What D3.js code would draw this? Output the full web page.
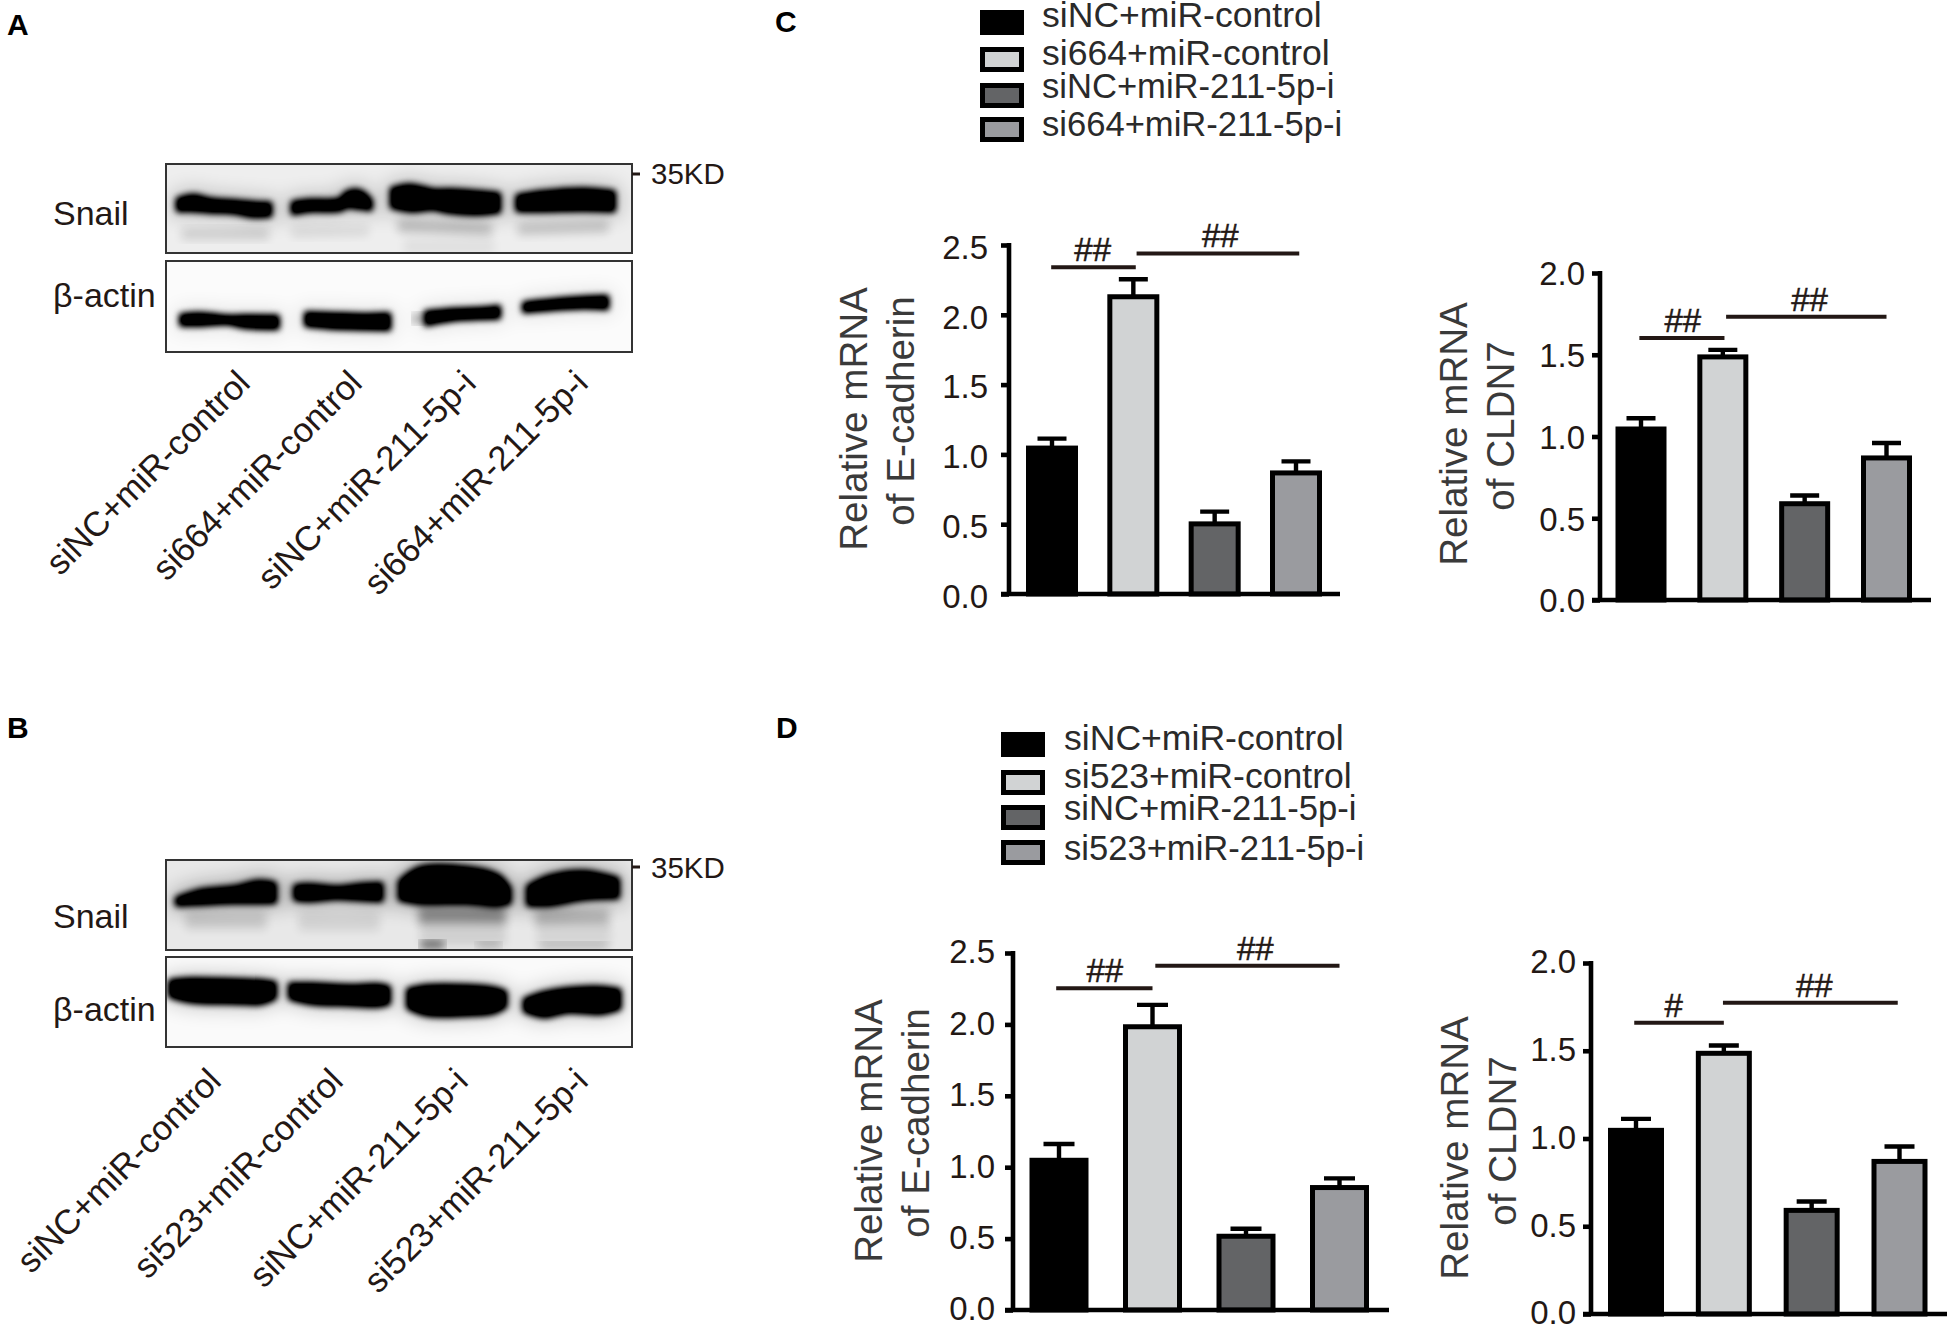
<!DOCTYPE html>
<html><head><meta charset="utf-8">
<script src="https://cdn.jsdelivr.net/npm/d3@7"></script>
<style>html,body{margin:0;padding:0;background:#fff}svg{display:block}text{font-family:"Liberation Sans",Arial,sans-serif}</style>
</head><body><svg id="c" width="1950" height="1326"></svg>
<script>
// ---------- data ----------
const groups664 = ["siNC+miR-control","si664+miR-control","siNC+miR-211-5p-i","si664+miR-211-5p-i"];
const groups523 = ["siNC+miR-control","si523+miR-control","siNC+miR-211-5p-i","si523+miR-211-5p-i"];
const barColors = ["#000000","#d1d3d4","#636466","#9a9b9f"];
const ticksE = [0,0.5,1,1.5,2,2.5];
const ticksC = [0,0.5,1,1.5,2];
const ylabelE = ["Relative mRNA","of E-cadherin"];
const ylabelC = ["Relative mRNA","of CLDN7"];

const cEcadMeans = [1.056,2.14,0.513,0.878];
const cEcadTops  = [1.113,2.255,0.59,0.95];
const cCldnMeans = [1.055,1.496,0.598,0.878];
const cCldnTops  = [1.112,1.53,0.639,0.96];
const dEcadMeans = [1.059,1.994,0.527,0.868];
const dEcadTops  = [1.162,2.137,0.569,0.922];
const dCldnMeans = [1.055,1.494,0.599,0.878];
const dCldnTops  = [1.112,1.53,0.641,0.954];

// brackets: [from group index, to group index, level on the value axis, label position as group index, label]
const cEcadBrackets = [[-0.01,1.03,2.34,0.5,"##"],[1.04,3.04,2.44,2.07,"##"]];
const cCldnBrackets = [[-0.02,1.02,1.603,0.51,"##"],[1.04,3.0,1.732,2.06,"##"]];
const dEcadBrackets = [[-0.03,1.0,2.253,0.49,"##"],[1.03,3.0,2.41,2.1,"##"]];
const dCldnBrackets = [[-0.02,1.0,1.66,0.43,"#"],[0.99,2.98,1.774,2.03,"##"]];

// blot bands: each band is a list of [x, y, thickness] in blot units,
// faint entries carry their grey strength
const blotXDomain = [0,1400], blotYDomain = [0,270];
const snailABands = [
 [[38,123,28],[83,118,38],[133,126,30],[203,130,28],[263,138,34],[311,138,30]],
 [[383,133,26],[433,126,24],[523,123,26],[543,108,36],[583,108,44],[613,123,22]],
 [[681,103,50],[733,103,70],[803,108,50],[853,113,60],[933,118,60],[998,118,48]],
 [[1058,118,38],[1133,113,50],[1253,108,55],[1343,113,50]]];
const snailAFaint = [
 [[[53,213,22],[303,213,22]],0.13],[[[383,208,18],[603,203,18]],0.09],
 [[[703,188,26],[973,198,24]],0.2],[[[1063,198,24],[1323,190,24]],0.17],
 [[[720,250,30],[980,250,30]],0.06]];
const actinABands = [
 [[48,175,22],[103,173,26],[183,175,14],[243,180,26],[333,182,28]],
 [[423,173,30],[493,177,34],[593,180,34],[668,180,38]],
 [[783,170,30],[853,160,24],[953,155,22],[998,152,26]],
 [[1078,137,18],[1153,130,20],[1253,123,22],[1323,123,28]]];
const actinAFaint = [[[[745,172,14],[775,170,14]],0.35]];
const snailBBands = [
 [[35,124,14],[105,111,34],[205,104,40],[275,96,56],[325,98,50]],
 [[390,98,34],[425,98,40],[515,98,26],[585,96,38],[645,96,44]],
 [[705,91,50],[765,76,100],[905,76,100],[995,91,85],[1030,106,40]],
 [[1090,106,50],[1155,91,80],[1255,76,75],[1355,84,50]]];
const snailBFaint = [
 [[[65,181,40],[295,181,40]],0.13],[[[405,186,40],[635,186,40]],0.09],
 [[[765,166,40],[1015,166,40]],0.38],[[[1115,171,36],[1325,171,36]],0.22],
 [[[770,254,12],[830,254,12]],0.6],[[[770,225,50],[1015,225,50]],0.1],[[[1120,225,50],[1330,225,50]],0.08],
 [[[940,254,8],[1000,254,8]],0.25],[[[1130,256,8],[1320,256,8]],0.2]];
const actinBBands = [
 [[15,95,40],[75,100,60],[205,103,62],[285,105,60],[325,100,40]],
 [[375,103,36],[435,110,50],[555,115,50],[635,115,56],[667,115,44]],
 [[730,125,50],[785,130,80],[905,130,80],[985,130,66],[1017,127,40]],
 [[1080,145,30],[1135,143,64],[1205,130,62],[1305,130,70],[1360,127,50]]];
const actinBFaint = [];

// ---------- drawing ----------
const svg = d3.select("#c");
const INK = "#231815";
const defs = svg.append("defs");
const fBand = defs.append("filter").attr("id","band").attr("x","-10%").attr("y","-40%").attr("width","120%").attr("height","180%");
fBand.append("feGaussianBlur").attr("stdDeviation",3.2);
fBand.append("feComponentTransfer").append("feFuncA").attr("type","linear").attr("slope",1.35);
const fSoft = defs.append("filter").attr("id","soft").attr("x","-20%").attr("y","-80%").attr("width","140%").attr("height","260%");
fSoft.append("feGaussianBlur").attr("stdDeviation",5);
const fHalo = defs.append("filter").attr("id","halo").attr("x","-20%").attr("y","-100%").attr("width","140%").attr("height","300%");
fHalo.append("feGaussianBlur").attr("stdDeviation",10);

let clipN = 0;
function blot(x0,x1,y0,y1,bg,bands,faint,halo){
  const x = d3.scaleLinear().domain(blotXDomain).range([x0,x1]);
  const y = d3.scaleLinear().domain(blotYDomain).range([y0,y1]);
  const sy = (y1-y0)/(blotYDomain[1]-blotYDomain[0]);
  const area = d3.area().curve(d3.curveCatmullRom)
    .x(d=>x(d[0])).y0(d=>y(d[1])-d[2]*sy/2).y1(d=>y(d[1])+d[2]*sy/2);
  const id = "clip"+(clipN++);
  defs.append("clipPath").attr("id",id).append("rect").attr("x",x0).attr("y",y0).attr("width",x1-x0).attr("height",y1-y0);
  const g = svg.append("g").attr("clip-path",`url(#${id})`);
  g.append("rect").attr("x",x0).attr("y",y0).attr("width",x1-x0).attr("height",y1-y0).attr("fill",bg);
  g.append("g").attr("filter","url(#halo)").attr("opacity",halo).selectAll("path").data(bands).join("path").attr("d",area).attr("stroke","#000").attr("stroke-width",14).attr("fill","#000");
  faint.forEach(f=>{
    g.append("path").datum(f[0]).attr("d",area).attr("fill","#000").attr("stroke","#000").attr("stroke-width",4).attr("opacity",f[1]).attr("filter","url(#soft)");
  });
  g.append("g").attr("filter","url(#band)").selectAll("path").data(bands).join("path").attr("d",area).attr("fill","#000").attr("stroke","#000").attr("stroke-width",6).attr("stroke-linejoin","round");
  svg.append("rect").attr("x",x0).attr("y",y0).attr("width",x1-x0).attr("height",y1-y0).attr("fill","none").attr("stroke","#333").attr("stroke-width",2);
}
function txt(x,y,s,size,opts={}){
  const t = svg.append("text").attr("x",x).attr("y",y).attr("font-size",size).attr("fill",opts.fill||INK).text(s);
  if(opts.weight) t.attr("font-weight",opts.weight);
  if(opts.anchor) t.attr("text-anchor",opts.anchor);
  return t;
}
function westernPanel(o){
  blot(166,632,o.y1[0],o.y1[1],o.bg1,o.b1,o.f1,o.h1);
  blot(166,632,o.y2[0],o.y2[1],o.bg2,o.b2,o.f2,o.h2);
  svg.append("line").attr("x1",632).attr("x2",640).attr("y1",o.tickY).attr("y2",o.tickY).attr("stroke",INK).attr("stroke-width",3);
  txt(651,o.kdY,"35KD",29.5);
  txt(53,o.snailY,"Snail",34);
  txt(53,o.actinY,"β-actin",34);
  o.groups.forEach((g,i)=>{
    const e=o.ends[i];
    svg.append("text").attr("transform",`translate(${e[0]},${e[1]}) rotate(-45)`).attr("text-anchor","end").attr("font-size",34.5).attr("fill",INK).text(g);
  });
}
function legend(x,tx,tops,bases,groups){
  groups.forEach((g,i)=>{
    svg.append("rect").attr("x",x+2.5).attr("y",tops[i]+2.5).attr("width",39).attr("height",20).attr("fill",barColors[i]).attr("stroke","#000").attr("stroke-width",5);
    txt(tx,bases[i],g,g.includes("control")?35.6:34.6,{fill:"#2a2a2a"});
  });
}
function barPanel(o){
  const y = d3.scaleLinear().domain([0,o.max]).range([o.y0,o.yTop]);
  const xc = d3.scaleLinear().domain([0,3]).range(o.centers);
  const step = (o.centers[1]-o.centers[0])/3;
  const p = 1-o.bar/step;
  const band = d3.scaleBand().domain(o.groups).range([o.centers[0]-step/2,o.centers[1]+step/2]).paddingInner(p).paddingOuter(p/2);
  const g = svg.append("g");
  g.append("g").selectAll("path").data(o.tops).join("path")
    .attr("d",(d,i)=>{const c=xc(i),w=o.cap/2;return `M${c},${y(o.means[i])}V${y(d)}M${c-w},${y(d)}H${c+w}`;})
    .attr("stroke","#000").attr("stroke-width",4.4).attr("fill","none");
  g.append("g").selectAll("rect").data(o.means).join("rect")
    .attr("x",(d,i)=>band(o.groups[i])+2.5).attr("width",band.bandwidth()-5)
    .attr("y",d=>y(d)+1.5).attr("height",d=>y(0)-y(d)-1.5)
    .attr("fill",(d,i)=>barColors[i]).attr("stroke","#000").attr("stroke-width",5);
  const ax = g.append("g").attr("transform",`translate(${o.axisX},0)`)
    .call(d3.axisLeft(y).tickValues(o.ticks).tickFormat(d3.format(".1f")).tickSize(8).tickSizeOuter(0).tickPadding(o.pad));
  ax.selectAll("path,line").attr("stroke","#000").attr("stroke-width",4.6);
  ax.select(".domain").attr("d",`M0,${o.yTop-2}V${o.y0+2}`);
  ax.selectAll("text").attr("font-size",33).attr("fill",INK).attr("font-family",'"Liberation Sans",Arial,sans-serif').attr("dy",o.dy);
  g.append("line").attr("x1",o.axisX-8).attr("x2",o.xEnd).attr("y1",y(0)).attr("y2",y(0)).attr("stroke","#000").attr("stroke-width",4.6);
  o.brackets.forEach(b=>{
    g.append("line").attr("x1",xc(b[0])).attr("x2",xc(b[1])).attr("y1",y(b[2])).attr("y2",y(b[2])).attr("stroke",INK).attr("stroke-width",4);
    g.append("text").attr("x",xc(b[3])).attr("y",y(b[2])-6).attr("text-anchor","middle").attr("font-size",33).attr("fill",INK).attr("stroke",INK).attr("stroke-width",0.5).text(b[4]);
  });
  o.ylab.forEach((s,i)=>{
    g.append("text").attr("transform",`translate(${o.ylabX[i]},${o.ylabY[i]}) rotate(-90)`).attr("text-anchor","middle").attr("font-size",38.6).attr("fill","#3a3a3a").text(s);
  });
}

// panel letters
txt(7,35,"A",30,{weight:"bold",fill:"#000"});
txt(7,738,"B",30,{weight:"bold",fill:"#000"});
txt(775,32,"C",30,{weight:"bold",fill:"#000"});
txt(776,738,"D",30,{weight:"bold",fill:"#000"});

westernPanel({y1:[164,253],y2:[261,352],bg1:"#eeeeee",bg2:"#fbfbfb",b1:snailABands,f1:snailAFaint,b2:actinABands,f2:actinAFaint,h1:0.22,h2:0.1,
  tickY:174,kdY:184,snailY:225,actinY:307,groups:groups664,ends:[[252,385],[364,385],[478,385],[590,385]]});
westernPanel({y1:[860,950],y2:[957,1047],bg1:"#e8e8e8",bg2:"#fafafa",b1:snailBBands,f1:snailBFaint,b2:actinBBands,f2:actinBFaint,h1:0.3,h2:0.2,
  tickY:867,kdY:878,snailY:928,actinY:1021,groups:groups523,ends:[[223,1083],[345,1083],[470,1083],[590,1083]]});

legend(980,1042,[10,47,83,117],[27,65,98,136],groups664);
legend(1001,1064,[732,770,805,840],[750,788,820,860],groups523);

barPanel({groups:groups664,means:cEcadMeans,tops:cEcadTops,brackets:cEcadBrackets,ticks:ticksE,max:2.5,y0:594,yTop:245,axisX:1009,xEnd:1340,centers:[1052,1296],bar:52,cap:29,pad:13,dy:"0.4em",ylab:ylabelE,ylabX:[867,914],ylabY:[419,411]});
barPanel({groups:groups664,means:cCldnMeans,tops:cCldnTops,brackets:cCldnBrackets,ticks:ticksC,max:2,y0:600,yTop:273,axisX:1600,xEnd:1931,centers:[1641,1886.5],bar:51,cap:29,pad:7,dy:"0.36em",ylab:ylabelC,ylabX:[1467,1514],ylabY:[434,426]});
barPanel({groups:groups523,means:dEcadMeans,tops:dEcadTops,brackets:dEcadBrackets,ticks:ticksE,max:2.5,y0:1310,yTop:953,axisX:1013,xEnd:1389,centers:[1059,1339.5],bar:59,cap:31,pad:10,dy:"0.3em",ylab:ylabelE,ylabX:[882,929],ylabY:[1131,1123]});
barPanel({groups:groups523,means:dCldnMeans,tops:dCldnTops,brackets:dCldnBrackets,ticks:ticksC,max:2,y0:1314,yTop:963,axisX:1591,xEnd:1947,centers:[1636,1899.5],bar:56,cap:30,pad:7,dy:"0.3em",ylab:ylabelC,ylabX:[1468,1516],ylabY:[1148,1141]});
</script></body></html>
